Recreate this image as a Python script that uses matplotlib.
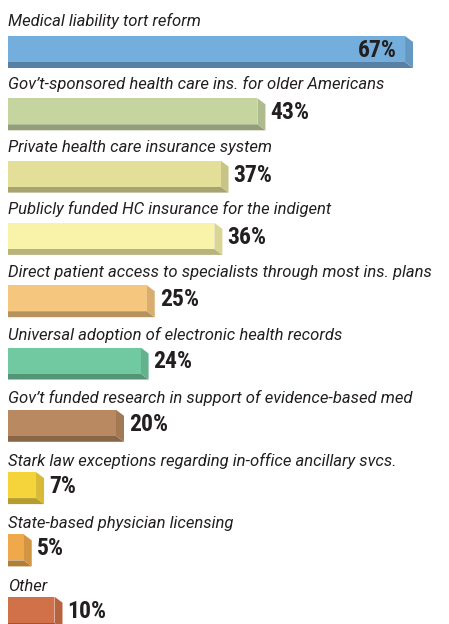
import matplotlib
matplotlib.use('Agg')
import matplotlib.pyplot as plt
import matplotlib.transforms as mtransforms
from matplotlib.patches import Polygon, Rectangle
from matplotlib.colors import to_rgb

labels = [
    'Medical liability tort reform',
    'Gov\u2019t-sponsored health care ins. for older Americans',
    'Private health care insurance system',
    'Publicly funded HC insurance for the indigent',
    'Direct patient access to specialists through most ins. plans',
    'Universal adoption of electronic health records',
    'Gov\u2019t funded research in support of evidence-based med',
    'Stark law exceptions regarding in-office ancillary svcs.',
    'State-based physician licensing',
    'Other',
]
values = [67, 43, 37, 36, 25, 24, 20, 7, 5, 10]
colors = ['#74aedd', '#c6d59f', '#e3de98', '#f9f2a9', '#f4c67e',
          '#70c9a0', '#b98a61', '#f5d33b', '#efa94a', '#d07149']

W, H = 449, 624
PX_PER_PCT = 6.15
X_LEFT = 2.44          # value at the left edge of the bars
PITCH = 62.3
DX = 8 / PX_PER_PCT    # depth of the extrusion, in value units
DY = 6                 # depth of the extrusion, in pixels
FRONT_H = 26


def shade(c, f):
    r, g, b = to_rgb(c)
    return (r * f, g * f, b * f)


fig = plt.figure(figsize=(W / 100, H / 100), dpi=100)
ax = fig.add_axes([8 / W, 0, (W - 8) / W, 1])
ax.set_xlim(X_LEFT, X_LEFT + (W - 8) / PX_PER_PCT)
ax.set_ylim(H, 0)
ax.axis('off')

trans = mtransforms.blended_transform_factory(ax.transAxes, ax.transData)
label_font = dict(family=['Roboto', 'DejaVu Sans'], style='italic',
                  weight='normal', size=12.0, color='#231f20')
pct_font = dict(family=['Roboto Condensed', 'DejaVu Sans'],
                weight='bold', size=17, color='#231f20')

for i, (lab, val, col) in enumerate(zip(labels, values, colors)):
    top = 36 + PITCH * i
    bot = top + FRONT_H

    ax.text(0, 26 + 62.8 * i, lab, transform=trans, va='baseline',
            ha='left', clip_on=False, **label_font)

    # bottom face
    ax.add_patch(Polygon([(0, bot), (val, bot), (val + DX, bot + DY),
                          (0, bot + DY)], closed=True,
                         facecolor=shade(col, 0.74), edgecolor='none'))
    # side face
    ax.add_patch(Polygon([(val, top), (val + DX, top + DY),
                          (val + DX, bot + DY), (val, bot)], closed=True,
                         facecolor=shade(col, 0.88), edgecolor='none'))
    # front face
    ax.add_patch(Rectangle((0, top), val, FRONT_H, facecolor=col,
                           edgecolor='none'))

    if i == 0:
        ax.text(val - 1.3, top + 21, '{}%'.format(val), ha='right',
                va='baseline', **pct_font)
    else:
        ax.text(val + DX + 0.8, top + 21, '{}%'.format(val), ha='left',
                va='baseline', **pct_font)

fig.savefig('out.png', dpi=100)
